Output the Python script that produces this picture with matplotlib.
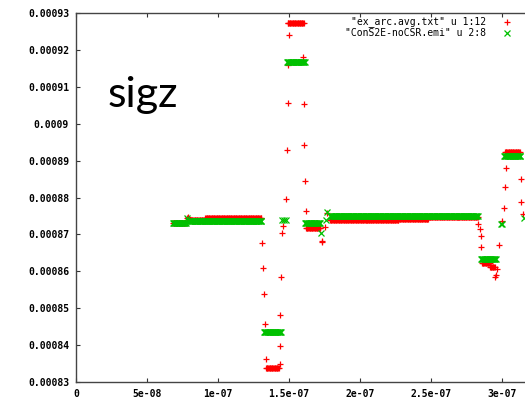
import numpy as np
import matplotlib.pyplot as plt

# sampling step used for the flat stretches (s)
dt = 0.5e-9

# ex_arc.avg.txt (column 1 vs 12): flat stretches (t_start, t_end, sigz)
arc_runs = [
    (6.83e-8, 7.75e-8, 8.731e-4),
    (7.95e-8, 9.10e-8, 8.738e-4),
    (9.10e-8, 1.305e-7, 8.744e-4),
    (1.338e-7, 1.430e-7, 8.338e-4),
    (1.490e-7, 1.606e-7, 9.273e-4),
    (1.620e-7, 1.718e-7, 8.717e-4),
    (1.789e-7, 2.050e-7, 8.738e-4),
    (2.050e-7, 2.270e-7, 8.740e-4),
    (2.270e-7, 2.480e-7, 8.743e-4),
    (2.480e-7, 2.690e-7, 8.746e-4),
    (2.690e-7, 2.830e-7, 8.748e-4),
    (2.859e-7, 2.915e-7, 8.622e-4),
    (2.915e-7, 2.951e-7, 8.612e-4),
    (3.021e-7, 3.127e-7, 8.923e-4),
]
# ex_arc.avg.txt: isolated points on the jumps
arc_t = [7.82e-8, 7.89e-8, 1.310e-7, 1.317e-7, 1.324e-7, 1.331e-7, 1.338e-7,
         1.434e-7, 1.437e-7, 1.440e-7, 1.444e-7, 1.451e-7, 1.458e-7, 1.479e-7,
         1.486e-7, 1.493e-7, 1.493e-7, 1.500e-7,
         1.599e-7, 1.606e-7, 1.606e-7, 1.613e-7, 1.620e-7,
         1.732e-7, 1.734e-7, 1.754e-7, 1.768e-7,
         2.831e-7, 2.845e-7, 2.852e-7, 2.852e-7,
         2.951e-7, 2.958e-7, 2.965e-7, 2.979e-7, 3.000e-7,
         3.014e-7, 3.021e-7, 3.028e-7, 3.134e-7, 3.134e-7, 3.148e-7]
arc_y = [8.745e-4, 8.747e-4, 8.677e-4, 8.609e-4, 8.538e-4, 8.457e-4, 8.362e-4,
         8.349e-4, 8.398e-4, 8.482e-4, 8.585e-4, 8.704e-4, 8.723e-4, 8.796e-4,
         8.929e-4, 9.056e-4, 9.159e-4, 9.240e-4,
         9.181e-4, 9.053e-4, 8.942e-4, 8.845e-4, 8.763e-4,
         8.679e-4, 8.681e-4, 8.720e-4, 8.758e-4,
         8.728e-4, 8.715e-4, 8.696e-4, 8.666e-4,
         8.585e-4, 8.590e-4, 8.606e-4, 8.671e-4, 8.736e-4,
         8.772e-4, 8.828e-4, 8.880e-4, 8.850e-4, 8.788e-4, 8.755e-4]

# ConS2E-noCSR.emi (column 2 vs 8): flat stretches
emi_runs = [
    (6.83e-8, 7.75e-8, 8.731e-4),
    (7.95e-8, 1.305e-7, 8.737e-4),
    (1.324e-7, 1.444e-7, 8.435e-4),
    (1.486e-7, 1.613e-7, 9.167e-4),
    (1.613e-7, 1.718e-7, 8.731e-4),
    (1.789e-7, 2.830e-7, 8.750e-4),
    (2.852e-7, 2.958e-7, 8.633e-4),
    (3.014e-7, 3.127e-7, 8.912e-4),
]
emi_t = [7.85e-8, 1.451e-7, 1.465e-7, 1.479e-7, 1.725e-7, 1.761e-7, 1.768e-7,
         2.993e-7, 3.000e-7, 3.155e-7]
emi_y = [8.745e-4, 8.738e-4, 8.738e-4, 8.738e-4, 8.704e-4, 8.738e-4, 8.760e-4,
         8.728e-4, 8.728e-4, 8.744e-4]

xticks = [0, 5e-8, 1e-7, 1.5e-7, 2e-7, 2.5e-7, 3e-7]
xlabels = ["0", "5e-08", "1e-07", "1.5e-07", "2e-07", "2.5e-07", "3e-07"]
yticks = [0.00083, 0.00084, 0.00085, 0.00086, 0.00087, 0.00088,
          0.00089, 0.0009, 0.00091, 0.00092, 0.00093]
ylabels = ["0.00083", "0.00084", "0.00085", "0.00086", "0.00087", "0.00088",
           "0.00089", "0.0009", "0.00091", "0.00092", "0.00093"]

labels = ['"ex_arc.avg.txt" u 1:12', '"ConS2E-noCSR.emi" u 2:8']


def expand(runs, t_pts, y_pts):
    ts, ys = [], []
    for t0, t1, v in runs:
        t = np.arange(t0, t1 + dt / 2, dt)
        ts.append(t)
        ys.append(np.full(len(t), v))
    ts.append(np.array(t_pts))
    ys.append(np.array(y_pts))
    return np.concatenate(ts), np.concatenate(ys)


arc_x, arc_v = expand(arc_runs, arc_t, arc_y)
emi_x, emi_v = expand(emi_runs, emi_t, emi_y)

red = "#ff0000"
green = "#00c000"

fig = plt.figure(figsize=(5.25, 4.04), dpi=100)
ax = fig.add_axes([76 / 525, 22 / 404, 449 / 525, 369 / 404])

ax.plot(arc_x, arc_v, ls="none", marker="+", ms=5, mew=0.9, color=red)
ax.plot(emi_x, emi_v, ls="none", marker="x", ms=4.3, mew=0.9, color=green)

ax.set_xlim(0, 3.162e-7)
ax.set_ylim(0.00083, 0.00093)
ax.set_xticks(xticks)
ax.set_xticklabels(xlabels)
ax.set_yticks(yticks)
ax.set_yticklabels(ylabels)

tick_font = dict(family="DejaVu Sans Mono", weight="bold", size=7)
for lab in ax.get_xticklabels() + ax.get_yticklabels():
    lab.set_fontproperties(tick_font)
ax.tick_params(direction="in", length=3, width=0.8, color="#333333",
               top=True, right=False, pad=5)
ax.spines["right"].set_visible(False)
for s in ("left", "bottom", "top"):
    ax.spines[s].set_linewidth(1.0)
    ax.spines[s].set_color("#444444")

# gnuplot-style key: right aligned text, marker sample to the right
key_font = dict(family="DejaVu Sans Mono", size=7)
for i, (lab, mk, col) in enumerate(zip(labels, ["+", "x"], [red, green])):
    yk = 1 - (9 + 11 * i) / 369
    ax.text(410 / 449, yk, lab, transform=ax.transAxes, ha="right",
            va="center", **key_font)
    ax.plot([431 / 449], [yk], transform=ax.transAxes, marker=mk, ms=5,
            mew=0.9, color=col, ls="none", clip_on=False)

fig.text(108 / 525, (404 - 107) / 404, "sigz", family="Lato", size=31,
         va="baseline", ha="left")

fig.savefig("out.png", dpi=100)
